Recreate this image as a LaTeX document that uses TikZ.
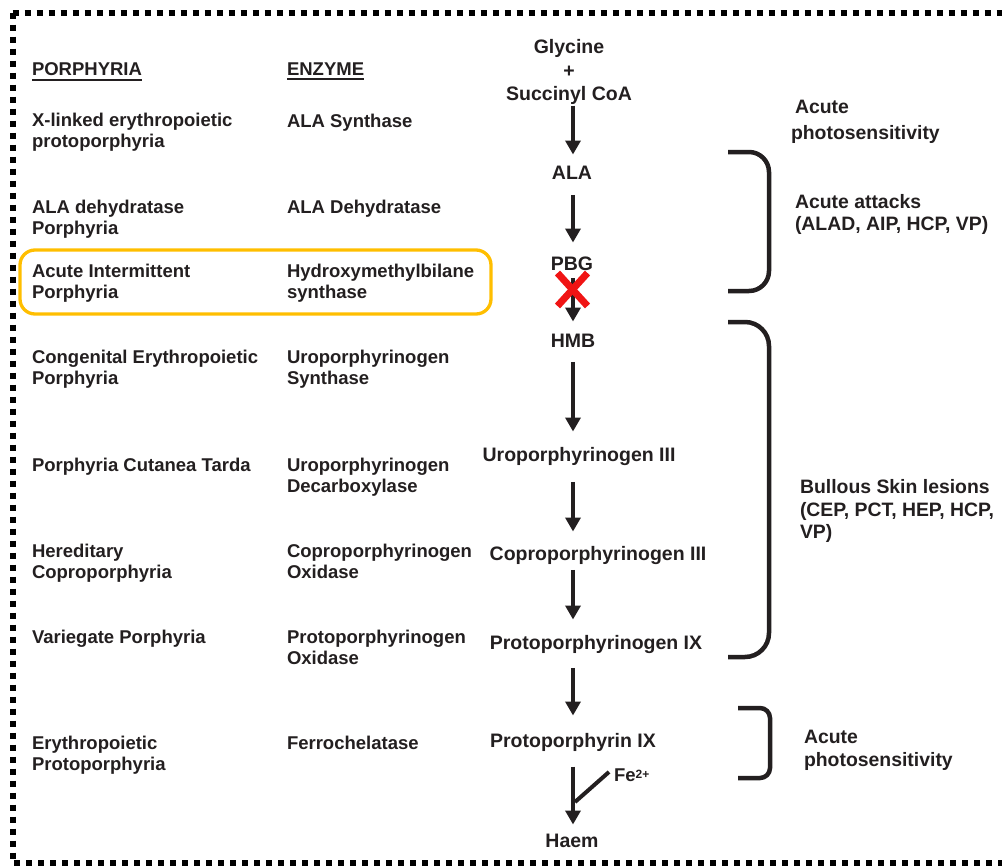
\documentclass[tikz,border=0pt]{standalone}
\usepackage{fontspec}
\setmainfont{Liberation Sans}
\usetikzlibrary{arrows.meta}
\definecolor{ink}{HTML}{231F20}
\definecolor{hilite}{RGB}{255,190,0}
\definecolor{xred}{RGB}{240,20,20}
\tikzset{
  lbl/.style={inner sep=0pt, outer sep=0pt, text=ink, align=left, anchor=north west,
    font=\fontsize{18.5pt}{21.5pt}\selectfont\bfseries},
  rlbl/.style={lbl, font=\fontsize{19.4pt}{22.5pt}\selectfont\bfseries},
  mid/.style={inner sep=0pt, outer sep=0pt, text=ink, align=center, anchor=north,
    font=\fontsize{19.5pt}{22pt}\selectfont\bfseries},
  arr/.style={line width=4pt, draw=ink, -{Triangle[width=15pt,length=14pt]}},
  brk/.style={line width=4.5pt, draw=ink, line cap=butt},
  ulin/.style={line width=2pt, draw=ink},
  border/.style={line width=6pt, draw=black, dash pattern=on 6pt off 6pt},
}
\begin{document}
\begin{tikzpicture}[x=1pt,y=-1pt]
\useasboundingbox (0,0) rectangle (1002,868);
\clip (0,0) rectangle (1002,868);
% border
\draw[border] (12.5,12.5) -- (1010,12.5);
\draw[border] (12.5,12.5) -- (12.5,863) -- (1010,863);

% highlight box
\draw[draw=hilite, line width=3.3pt, rounded corners=15pt] (20,250) rectangle (491,314);

% headers
\node[lbl] (porph) at (32,63) {PORPHYRIA};
\node[lbl] (enz) at (287,63) {ENZYME};
\draw[ulin] ([yshift=-3.75pt]porph.south west) -- ([yshift=-3.75pt]porph.south east);
\draw[ulin] ([yshift=-3.75pt]enz.south west) -- ([yshift=-3.75pt]enz.south east);

% porphyria column
\node[lbl] (p1) at (32,113) {X-linked erythropoietic\\protoporphyria};
\node[lbl] (p2) at (32,200) {ALA dehydratase\\Porphyria};
\node[lbl] (p3) at (32,264) {Acute Intermittent\\Porphyria};
\node[lbl] (p4) at (32,350) {Congenital Erythropoietic\\Porphyria};
\node[lbl] (p5) at (32,458) {Porphyria Cutanea Tarda};
\node[lbl] (p6) at (32,544) {Hereditary\\Coproporphyria};
\node[lbl] (p7) at (32,630) {Variegate Porphyria};
\node[lbl] (p8) at (32,736) {Erythropoietic\\Protoporphyria};

% enzyme column
\node[lbl] (e1) at (287,114) {ALA Synthase};
\node[lbl] (e2) at (287,200) {ALA Dehydratase};
\node[lbl] (e3) at (287,264) {Hydroxymethylbilane\\synthase};
\node[lbl] (e4) at (287,350) {Uroporphyrinogen\\Synthase};
\node[lbl] (e5) at (287,458) {Uroporphyrinogen\\Decarboxylase};
\node[lbl] (e6) at (287,544) {Coproporphyrinogen\\Oxidase};
\node[lbl] (e7) at (287,630) {Protoporphyrinogen\\Oxidase};
\node[lbl] (e8) at (287,736) {Ferrochelatase};

% pathway
\node[mid, font=\fontsize{19.5pt}{23.5pt}\selectfont\bfseries] (gly) at (569,39.5) {Glycine\\+\\Succinyl CoA};
\node[mid] (ala) at (572,166.5) {ALA};
\node[mid] (pbg) at (572,256.5) {PBG};
\node[mid] (hmb) at (573,334.5) {HMB};
\node[mid] (uro) at (579,447.5) {Uroporphyrinogen III};
\node[mid] (copro) at (598,546.5) {Coproporphyrinogen III};
\node[mid] (protogen) at (596,635.5) {Protoporphyrinogen IX};
\node[mid] (proto) at (573,733.5) {Protoporphyrin IX};
\node[mid] (haem) at (572,834.5) {Haem};
\node[lbl] (fe) at (614,769) {Fe\raisebox{3.5pt}{\fontsize{12pt}{12pt}\selectfont 2+}};

\draw[arr, shorten <=1pt, shorten >=12pt] (gly.south -| 573,0) -- (ala.north -| 573,0);
\draw[arr, shorten <=15pt, shorten >=14pt] (ala.south -| 573,0) -- (pbg.north -| 573,0);
\draw[arr, shorten <=8pt, shorten >=13pt] (pbg.south -| 573,0) -- (hmb.north -| 573,0);
\draw[arr, shorten <=14pt, shorten >=16pt] (hmb.south -| 573,0) -- (uro.north -| 573,0);
\draw[arr, shorten <=16pt, shorten >=15pt] (uro.south -| 573,0) -- (copro.north -| 573,0);
\draw[arr, shorten <=5pt, shorten >=16pt] (copro.south -| 573,0) -- (protogen.north -| 573,0);
\draw[arr, shorten <=14pt, shorten >=18pt] (protogen.south -| 573,0) -- (proto.north -| 573,0);
\draw[arr, shorten <=15pt, shorten >=10pt] (proto.south -| 573,0) -- (haem.north -| 573,0);

% Fe2+ join
\coordinate (feJoin) at (575,802);
\draw[line width=4pt, draw=ink] ([shift={(-5,-3.5)}]fe.west) -- (feJoin);

% red cross on PBG -> HMB
\coordinate (block) at (572.5,289.5);
\draw[xred, line width=7pt] ([shift={(-15,-16.5)}]block) -- ([shift={(15,16.5)}]block);
\draw[xred, line width=7pt] ([shift={(15,-16.5)}]block) -- ([shift={(-15,16.5)}]block);

% brackets
\draw[brk, rounded corners=20pt] (728,152) -- (769,152) -- (769,291) -- (728,291);
\draw[brk, rounded corners=24pt] (728,322) -- (769,322) -- (769,657) -- (728,657);
\draw[brk, rounded corners=10pt] (738,708) -- (770,708) -- (770,778) -- (738,778);

% outcomes
\node[rlbl] (ph1) at (791,100.5) {\hspace*{4pt}Acute\\[3.5pt]photosensitivity};
\node[rlbl, font=\fontsize{19.4pt}{22pt}\selectfont\bfseries] (att) at (795,194.5) {Acute attacks\\(ALAD, AIP, HCP, VP)};
\node[rlbl] (bul) at (800,479.5) {Bullous Skin lesions\\(CEP, PCT, HEP, HCP,\\VP)};
\node[rlbl, font=\fontsize{19.4pt}{23pt}\selectfont\bfseries] (ph2) at (804,730.5) {Acute\\photosensitivity};
\end{tikzpicture}
\end{document}
